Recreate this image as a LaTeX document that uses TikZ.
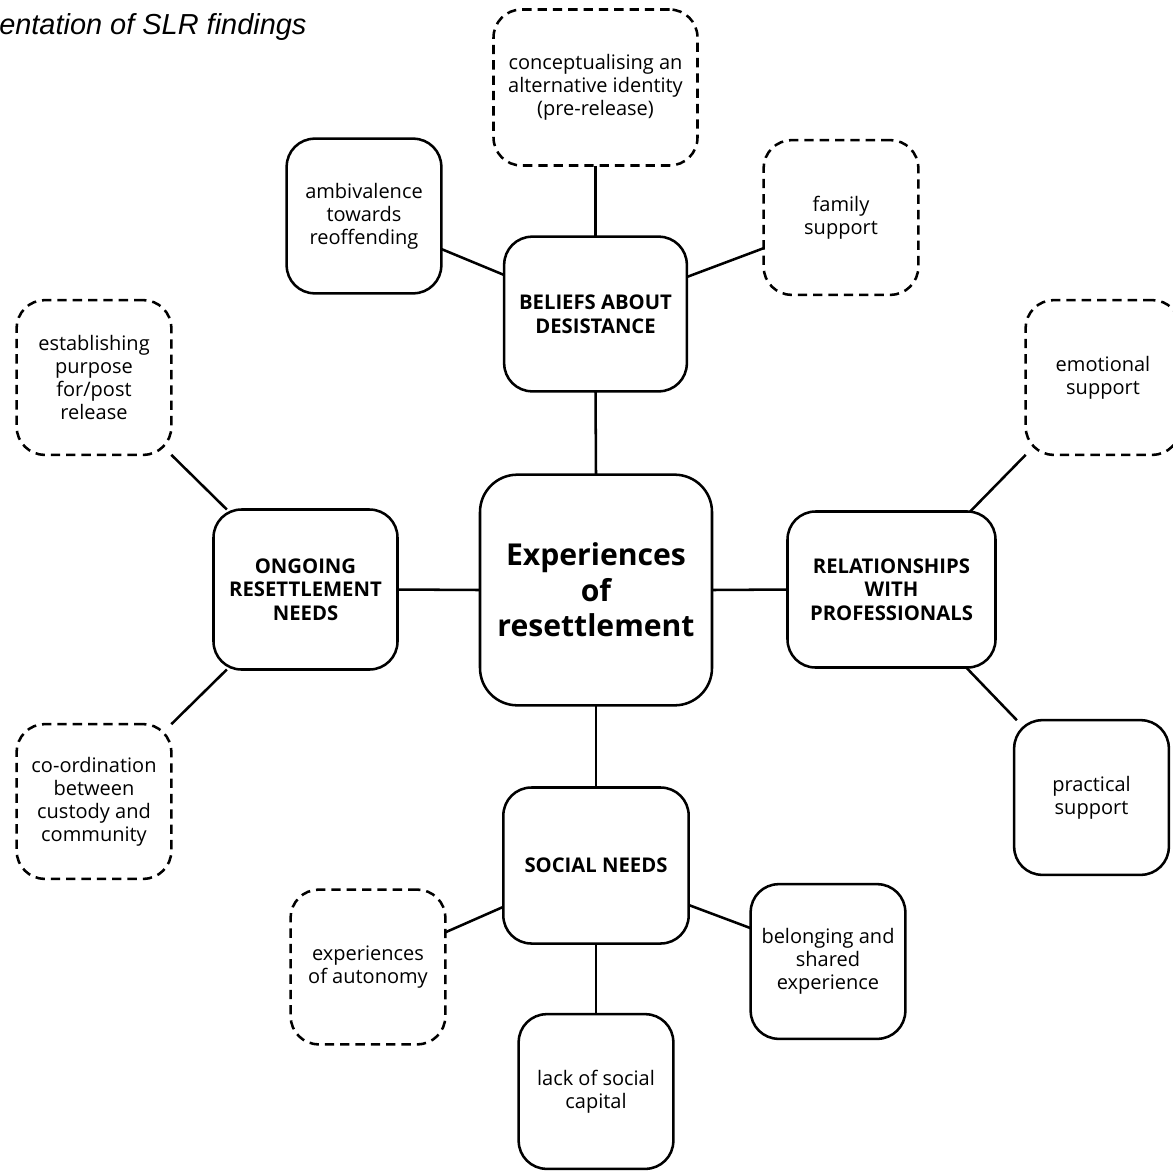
\documentclass[tikz,border=0pt]{standalone}
\usepackage{fontspec}
\setmainfont{Open Sans}
\newfontfamily\titlefont{Liberation Sans}
\begin{document}
\begin{tikzpicture}[x=0.75pt,y=-0.75pt,
  theme/.style={draw=black,line width=1.9pt,rounded corners=21pt,fill=white,
    inner sep=0pt,outer sep=0pt,align=center,
    font=\fontsize{15.2}{17.7}\selectfont\bfseries},
  core/.style={theme,rounded corners=28pt,
    font=\fontsize{22.6}{26.5}\selectfont\bfseries,
    minimum width=174pt,minimum height=173pt},
  finding/.style={draw=black,line width=1.9pt,rounded corners=21pt,fill=white,
    inner sep=0pt,outer sep=0pt,align=center,
    font=\fontsize{15}{17.2}\selectfont,
    minimum width=116pt,minimum height=116pt},
  tentative/.style={finding,dash pattern=on 7pt off 4.5pt},
  link/.style={line width=1.9pt}]

\useasboundingbox (0,0) rectangle (1173,1171);
\clip (0,0) rectangle (1173,1171);

% caption fragment
\node[anchor=base west,inner sep=0pt] (title) at (-1,34)
  {\titlefont\itshape\fontsize{21.7}{26}\selectfont entation of SLR findings};

% central theme
\node[core] (core) at (596,590) {Experiences\\of\\resettlement};

% main themes
\node[theme,minimum width=137pt,minimum height=116pt] (beliefs) at (595.5,314)
  {BELIEFS ABOUT\\DESISTANCE};
\node[theme,minimum width=138pt,minimum height=120pt] (ongoing) at (305.5,589.5)
  {ONGOING\\RESETTLEMENT\\NEEDS};
\node[theme,minimum width=156pt,minimum height=117pt] (relations) at (891.5,589.5)
  {RELATIONSHIPS\\WITH\\PROFESSIONALS};
\node[theme,minimum width=139pt,minimum height=117pt] (social) at (596,865.5)
  {SOCIAL NEEDS};

% findings around beliefs about desistance
\node[tentative,minimum width=153pt,minimum height=117pt] (identity) at (595.5,87.5)
  {conceptualising an\\alternative identity\\(pre-release)};
\node[finding] (ambivalence) at (364,216) {ambivalence\\towards\\reoffending};
\node[tentative] (family) at (841,217.5) {family\\support};

% findings around ongoing resettlement needs
\node[tentative] (purpose) at (94,377.5) {establishing\\purpose\\for/post\\release};
\node[tentative] (coordination) at (94,801.5)
  {co-ordination\\between\\custody and\\community};

% findings around relationships with professionals
\node[tentative] (emotional) at (1103,377.5) {emotional\\support};
\node[finding] (practical) at (1091.5,797.5) {practical\\support};

% findings around social needs
\node[tentative] (autonomy) at (368,967) {experiences\\of autonomy};
\node[finding] (belonging) at (828,961.5) {belonging and\\shared\\experience};
\node[finding] (capital) at (596,1091.5) {lack of social\\capital};

% connectors from the centre
\draw[link] (core.north) -- (beliefs.south);
\draw[link] (core.west) -- (ongoing.east);
\draw[link] (core.east) -- (relations.west);
\draw[link] (core.south) -- (social.north);

% connectors to findings
\draw[link] (beliefs.north) -- (identity.south);
\draw[link] ([yshift=29.25pt]beliefs.west) -- ([yshift=-24.75pt]ambivalence.east);
\draw[link] ([yshift=27.75pt]beliefs.east) -- ([yshift=-23pt]family.west);

\draw[link] ([xshift=10pt]ongoing.north west) -- (purpose.south east);
\draw[link] ([xshift=10pt]ongoing.south west) -- (coordination.north east);

\draw[link] ([xshift=-19pt]relations.north east) -- (emotional.south west);
\draw[link] ([xshift=-22pt]relations.south east) -- ([xshift=2pt]practical.north west);

\draw[link] ([yshift=-31pt]social.west) -- ([yshift=26pt]autonomy.east);
\draw[link] ([yshift=-29.6pt]social.east) -- ([yshift=25pt]belonging.west);
\draw[link] (social.south) -- (capital.north);

\end{tikzpicture}
\end{document}
